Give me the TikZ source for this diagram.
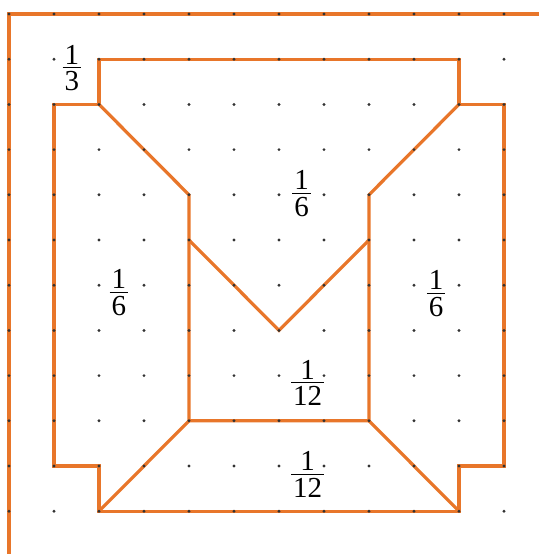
\documentclass[tikz,border=0pt]{standalone}
\usepackage{fontspec}
\setmainfont{Liberation Serif}
\definecolor{edgeorange}{RGB}{232,118,42}
\definecolor{dotgray}{RGB}{50,50,50}
\newcommand\frc[2]{\vbox{\offinterlineskip\halign{\hfil\kern1pt##\kern1pt\hfil\cr #1\cr\noalign{\kern1.6pt\hrule height0.6pt\kern1.6pt}#2\cr}}}
\tikzset{
  ln/.style={draw=edgeorange, line width=1.6pt},
  lab/.style={inner sep=0pt, font=\fontsize{14.5}{16}\selectfont},
  gdot/.style={fill=dotgray}
}
\begin{document}
\begin{tikzpicture}[x=22.5pt, y=-22.6pt]
\useasboundingbox (-0.2,-0.31) rectangle (11.778,11.947);
% outer frame lines
\draw[ln] (0,11.947) -- (0,0) -- (11.778,0);
% main outline
\draw[ln] (2,1) -- (10,1) -- (10,2) -- (11,2) -- (11,10) -- (10,10) -- (10,11)
  -- (2,11) -- (2,10) -- (1,10) -- (1,2) -- (2,2) -- cycle;
% inner lines
\draw[ln] (2,2) -- (4,4) -- (4,9) -- (8,9) -- (8,4) -- (10,2);
\draw[ln] (4,5) -- (6,7) -- (8,5);
\draw[ln] (4,9) -- (2,11);
\draw[ln] (8,9) -- (10,11);
% dots
\foreach \i in {0,...,11} {
  \foreach \j in {0,...,11} {
    \fill[gdot] (\i,\j) circle (0.8pt);
  }
}
% labels
\node[lab] (l1) at (1.4,1.195) {\frc{1}{3}};
\node[lab] (l2) at (6.504,3.98) {\frc{1}{6}};
\node[lab] (l3) at (2.444,6.17) {\frc{1}{6}};
\node[lab] (l4) at (9.489,6.19) {\frc{1}{6}};
\node[lab] (l5) at (6.638,8.16) {\frc{1}{12}};
\node[lab] (l6) at (6.638,10.18) {\frc{1}{12}};
\end{tikzpicture}
\end{document}
